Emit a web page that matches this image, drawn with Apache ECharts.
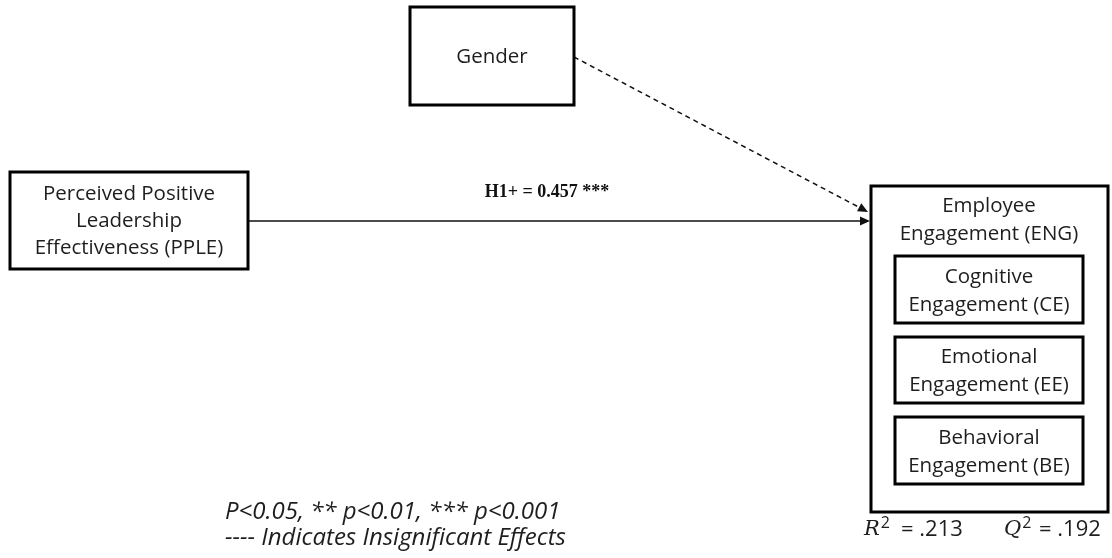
<!DOCTYPE html>
<html>
<head>
<meta charset="utf-8">
<script src="https://cdn.jsdelivr.net/npm/echarts@6/dist/echarts.min.js"></script>
<style>html,body{margin:0;padding:0;background:#fff}#c{width:1112px;height:558px}</style>
</head>
<body>
<div id="c"></div>
<script>
// ---- content (text and values) ----
const constructs = ['Perceived Positive\nLeadership\nEffectiveness (PPLE)', 'Gender', 'Employee\nEngagement (ENG)'];
const dimensions = ['Cognitive\nEngagement (CE)', 'Emotional\nEngagement (EE)', 'Behavioral\nEngagement (BE)'];
const pathNames = ['H1+', ''];
const pathCoefficients = [0.457, null];
const pathStars = ['***', ''];
const pathSignificant = [true, false];
const fitNames = ['R', 'Q'];
const fitValues = [0.213, 0.192];
const notes = ['P<0.05, ** p<0.01, *** p<0.001', '---- Indicates Insignificant Effects'];

// ---- layout (positions in the 1112 x 558 frame) ----
const boxLayout = [
  [10, 172, 248, 269],    // PPLE
  [410, 7, 574, 105],     // Gender
  [871, 186, 1108, 512],  // ENG
  [895, 256, 1083, 323],  // CE
  [895, 337, 1083, 403],  // EE
  [895, 417, 1083, 484]   // BE
];
const textCenters = [[129, 221], [492, 57], [989, 220], [989, 291], [989, 371], [989, 452]];
const pathLayout = [
  [248, 221, 870, 221],
  [574, 57, 868, 212]
];
const pathLabelPos = [[547, 192], null];
// x of letter, x of "=" ; y centre
const fitLayout = [[864, 901, 530], [1004, 1039, 530]];
const fitSep = ['= ', '= '];
const notePos = [[225, 512], [225, 538]];

const TXT = '#1e1e1e';
const boxFont = '20.5px "Open Sans"';
const letterFont = 'italic 21px "DejaVu Serif"';
const supFont = '16px "Open Sans"';
const allBoxes = constructs.concat(dimensions);

const mctx = document.createElement('canvas').getContext('2d');
function textWidth(t, font) { mctx.font = font; return mctx.measureText(t).width; }
function fmt(v) { return v.toFixed(3).replace(/^0/, ''); }

function renderBox(params, api) {
  const i = params.dataIndex;
  const b = boxLayout[i];
  const p0 = api.coord([b[0], b[1]]);
  const p1 = api.coord([b[2], b[3]]);
  const c = api.coord(textCenters[i]);
  return { type: 'group', children: [{
    type: 'rect',
    shape: { x: p0[0], y: p0[1], width: p1[0] - p0[0], height: p1[1] - p0[1] },
    style: { fill: '#fff', stroke: '#000', lineWidth: 3 }
  }, {
    type: 'text',
    style: { text: allBoxes[i], x: c[0], y: c[1], align: 'center', verticalAlign: 'middle',
      font: boxFont, fill: TXT, lineHeight: i === 0 ? 27 : 28 }
  }] };
}

function renderPath(params, api) {
  const i = params.dataIndex;
  const L = pathLayout[i];
  const a = api.coord([L[0], L[1]]);
  const b = api.coord([L[2], L[3]]);
  const dx = b[0] - a[0], dy = b[1] - a[1];
  const len = Math.sqrt(dx * dx + dy * dy);
  const ux = dx / len, uy = dy / len;
  const head = 10, hw = 4.5;
  const base = [b[0] - ux * head, b[1] - uy * head];
  const children = [{
    type: 'line',
    shape: { x1: a[0], y1: a[1], x2: base[0], y2: base[1] },
    style: { stroke: '#111', lineWidth: pathSignificant[i] ? 1.3 : 1.5,
      lineDash: pathSignificant[i] ? null : [5, 4] }
  }, {
    type: 'polygon',
    shape: { points: [[b[0], b[1]], [base[0] - uy * hw, base[1] + ux * hw], [base[0] + uy * hw, base[1] - ux * hw]] },
    style: { fill: '#111' }
  }];
  if (pathLabelPos[i]) {
    const p = api.coord(pathLabelPos[i]);
    children.push({
      type: 'text',
      style: { text: pathNames[i] + ' = ' + pathCoefficients[i].toFixed(3) + ' ' + pathStars[i],
        x: p[0], y: p[1], align: 'center', verticalAlign: 'middle',
        font: 'bold 18px "Liberation Serif"', fill: '#111' }
    });
  }
  return { type: 'group', children };
}

function renderNotes(params, api) {
  const children = [];
  notes.forEach((t, k) => {
    const p = api.coord(notePos[k]);
    children.push({ type: 'text', style: { text: t, x: p[0], y: p[1], align: 'left', verticalAlign: 'middle',
      font: 'italic 24px "Open Sans"', fill: TXT } });
  });
  fitNames.forEach((n, k) => {
    const f = fitLayout[k];
    const a = api.coord([f[0], f[2]]);
    const r = api.coord([f[1], f[2]]);
    const sx = a[0] + textWidth(n, letterFont) + 1;
    children.push({ type: 'text', style: { text: n, x: a[0], y: a[1], align: 'left', verticalAlign: 'middle', font: letterFont, fill: TXT } });
    children.push({ type: 'text', style: { text: '2', x: sx, y: a[1] - 7, align: 'left', verticalAlign: 'middle', font: supFont, fill: TXT } });
    children.push({ type: 'text', style: { text: fitSep[k] + fmt(fitValues[k]), x: Math.max(r[0], sx + textWidth('2', supFont)), y: r[1], align: 'left', verticalAlign: 'middle', font: '22px "Open Sans"', fill: TXT } });
  });
  return { type: 'group', children };
}

const chart = echarts.init(document.getElementById('c'), null, { renderer: 'canvas' });
chart.setOption({
  backgroundColor: '#fff',
  animation: false,
  grid: { left: 0, right: 0, top: 0, bottom: 0 },
  xAxis: { type: 'value', min: 0, max: 1112, show: false },
  yAxis: { type: 'value', min: 0, max: 558, inverse: true, show: false },
  series: [
    { type: 'custom', name: 'paths', clip: false, renderItem: renderPath, data: pathNames.map((n, i) => [i, i]), z: 1 },
    { type: 'custom', name: 'boxes', clip: false, renderItem: renderBox, data: allBoxes.map((n, i) => [i, i]), z: 2 },
    { type: 'custom', name: 'notes', clip: false, renderItem: renderNotes, data: [[0, 0]], z: 3 }
  ]
});
</script>
</body>
</html>
